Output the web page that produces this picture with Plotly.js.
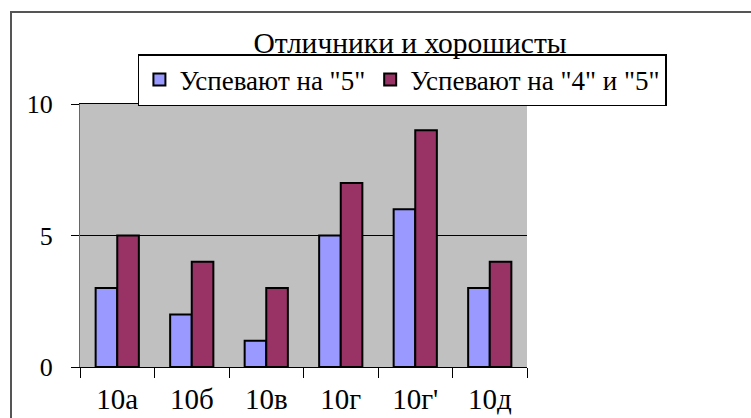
<!DOCTYPE html>
<html>
<head>
<meta charset="utf-8">
<script src="https://cdn.plot.ly/plotly-3.0.1.min.js"></script>
<style>
html,body{margin:0;padding:0;background:#fff;}
#wrap{position:relative;width:751px;height:418px;overflow:hidden;}
#frame{position:absolute;left:10px;top:11px;width:800px;height:500px;border:2px solid #555;box-sizing:border-box;}
#chart{position:absolute;left:0;top:0;width:751px;height:418px;}
</style>
</head>
<body>
<div id="wrap"><div id="frame"></div><div id="chart"></div></div>
<script>
var categories = ["10а", "10б", "10в", "10г", "10г'", "10д"];
var seriesNames = ['Успевают на "5"', 'Успевают на "4" и "5"'];
var excellent = [3, 2, 1, 5, 6, 3];
var good = [5, 4, 3, 7, 9, 4];
var yTicks = [0, 5, 10];

var font = "Liberation Serif";
var traces = [
  {type: "bar", name: seriesNames[0], x: categories, y: excellent,
   marker: {color: "#9999FF", line: {color: "#000", width: 2}}},
  {type: "bar", name: seriesNames[1], x: categories, y: good,
   marker: {color: "#993366", line: {color: "#000", width: 2}}}
];
var layout = {
  width: 751, height: 418,
  margin: {l: 80, r: 224, t: 104, b: 51},
  paper_bgcolor: "rgba(0,0,0,0)",
  plot_bgcolor: "#C0C0C0",
  barmode: "group",
  bargap: 0.42,
  bargroupgap: 0,
  font: {family: font, size: 26, color: "#000"},
  title: {text: "Отличники и хорошисты", font: {family: font, size: 29.5, color: "#000"},
          x: 0.546, xref: "container", xanchor: "center", y: 0.897, yref: "container", yanchor: "middle"},
  showlegend: true,
  legend: {orientation: "h", x: 1.313, xref: "paper", xanchor: "right",
           y: 1.19, yref: "paper", yanchor: "top",
           bgcolor: "#fff", bordercolor: "#000", borderwidth: 1.5,
           font: {family: font, size: 27, color: "#000"}, itemwidth: 30, traceorder: "normal"},
  xaxis: {type: "category", tickson: "boundaries", ticks: "outside", ticklen: 10, tickwidth: 1,
          tickcolor: "#000", showline: true, linecolor: "#000", linewidth: 1, mirror: true,
          ticklabelstandoff: 6,
          showgrid: false, tickfont: {family: font, size: 29, color: "#000"}, fixedrange: true},
  yaxis: {range: [0, 10], tickvals: yTicks, ticktext: yTicks.map(String), ticks: "outside",
          ticklen: 8, tickwidth: 1, tickcolor: "#000", showline: true, linecolor: "#666",
          showgrid: true, gridcolor: "#000", gridwidth: 1, zeroline: true, zerolinecolor: "#000",
          zerolinewidth: 1, ticklabelstandoff: 13,
          tickfont: {family: font, size: 26, color: "#000"}, fixedrange: true}
};
Plotly.newPlot("chart", traces, layout, {displayModeBar: false, staticPlot: true});
</script>
</body>
</html>
